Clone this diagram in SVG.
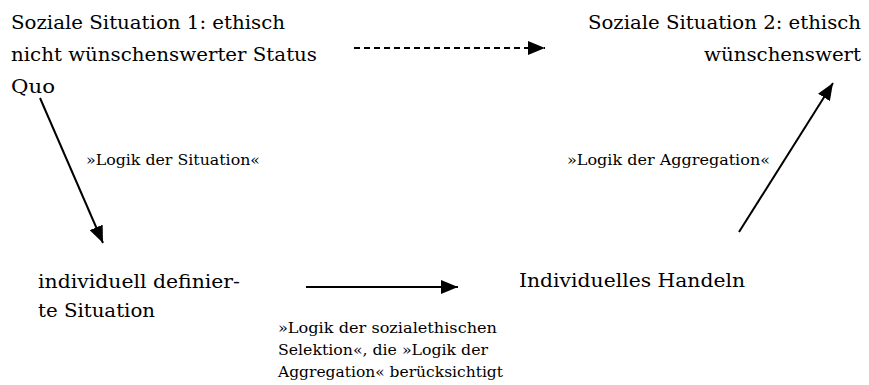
<svg xmlns="http://www.w3.org/2000/svg" width="869" height="385" viewBox="0 0 869 385">
<style>
  text { font-family: "DejaVu Serif", serif; fill: #000; }
  .big { font-size: 19px; }
  .small { font-size: 15px; }
  .conn { stroke: #000; stroke-width: 2; fill: none; }
  .dash { stroke-dasharray: 6 4; }
</style>
<defs>
  <marker id="ah" markerUnits="userSpaceOnUse" markerWidth="18" markerHeight="14" refX="17" refY="7" orient="auto">
    <path d="M0,0 L17,7 L0,14 z" fill="#000"/>
  </marker>
</defs>
<rect width="869" height="385" fill="#fff"/>

<g id="node-situation1">
  <text class="big" x="11" y="29" textLength="274" lengthAdjust="spacingAndGlyphs">Soziale Situation 1: ethisch</text>
  <text class="big" x="11" y="61" textLength="306" lengthAdjust="spacingAndGlyphs">nicht wünschenswerter Status</text>
  <text class="big" x="11" y="93" textLength="44" lengthAdjust="spacingAndGlyphs">Quo</text>
</g>

<g id="node-situation2">
  <text class="big" x="588" y="29" textLength="273" lengthAdjust="spacingAndGlyphs">Soziale Situation 2: ethisch</text>
  <text class="big" x="704" y="61" textLength="157" lengthAdjust="spacingAndGlyphs">wünschenswert</text>
</g>

<g id="node-definierte-situation">
  <text class="big" x="38" y="288" textLength="202" lengthAdjust="spacingAndGlyphs">individuell definier-</text>
  <text class="big" x="38" y="317" textLength="117" lengthAdjust="spacingAndGlyphs">te Situation</text>
</g>

<g id="node-handeln">
  <text class="big" x="519" y="287" textLength="226" lengthAdjust="spacingAndGlyphs">Individuelles Handeln</text>
</g>

<g id="connectors">
  <line class="conn dash" x1="354" y1="48" x2="545" y2="48" marker-end="url(#ah)"/>
  <line class="conn" x1="40" y1="98" x2="103" y2="243" marker-end="url(#ah)"/>
  <line class="conn" x1="306" y1="287" x2="458" y2="287" marker-end="url(#ah)"/>
  <line class="conn" x1="739" y1="232" x2="833" y2="83" marker-end="url(#ah)"/>
</g>

<g id="labels">
  <text class="small" x="86" y="165" textLength="174" lengthAdjust="spacingAndGlyphs">»Logik der Situation«</text>
  <text class="small" x="567" y="165" textLength="203" lengthAdjust="spacingAndGlyphs">»Logik der Aggregation«</text>
  <text class="small" x="278" y="333" textLength="219" lengthAdjust="spacingAndGlyphs">»Logik der sozialethischen</text>
  <text class="small" x="278" y="355" textLength="210" lengthAdjust="spacingAndGlyphs">Selektion«, die »Logik der</text>
  <text class="small" x="278" y="377" textLength="225" lengthAdjust="spacingAndGlyphs">Aggregation« berücksichtigt</text>
</g>
</svg>
